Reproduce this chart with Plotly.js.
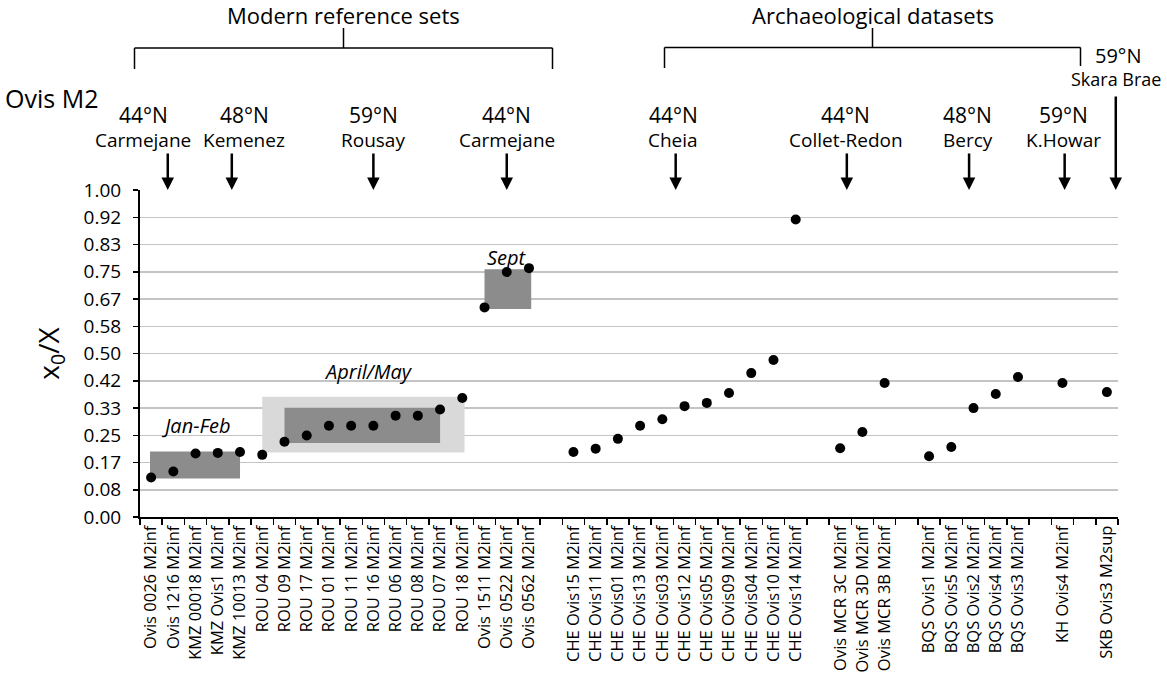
<!DOCTYPE html>
<html>
<head>
<meta charset="utf-8">
<script src="https://cdn.plot.ly/plotly-3.0.1.min.js"></script>
<style>html,body{margin:0;padding:0;background:#fff;}#chart{width:1167px;height:680px;}</style>
</head>
<body>
<div id="chart"></div>
<script>
// ---- data ----
const modernNames = ['Ovis 0026 M2inf','Ovis 1216 M2inf','KMZ 00018 M2inf','KMZ Ovis1 M2inf','KMZ 10013 M2inf',
  'ROU 04 M2inf','ROU 09 M2inf','ROU 17 M2inf','ROU 01 M2inf','ROU 11 M2inf','ROU 16 M2inf','ROU 06 M2inf',
  'ROU 08 M2inf','ROU 07 M2inf','ROU 18 M2inf','Ovis 1511 M2inf','Ovis 0522 M2inf','Ovis 0562 M2inf'];
const modernValues = [0.121,0.139,0.194,0.196,0.199,0.190,0.230,0.249,0.279,0.279,0.279,0.310,0.310,0.329,0.364,0.641,0.749,0.761];

const cheNames = ['CHE Ovis15 M2inf','CHE Ovis11 M2inf','CHE Ovis01 M2inf','CHE Ovis13 M2inf','CHE Ovis03 M2inf',
  'CHE Ovis12 M2inf','CHE Ovis05 M2inf','CHE Ovis09 M2inf','CHE Ovis04 M2inf','CHE Ovis10 M2inf','CHE Ovis14 M2inf'];
const cheValues = [0.199,0.209,0.239,0.279,0.299,0.339,0.349,0.379,0.440,0.480,0.910];

const mcrNames = ['Ovis MCR 3C M2inf','Ovis MCR 3D M2inf','Ovis MCR 3B M2inf'];
const mcrValues = [0.210,0.260,0.410];

const bqsNames = ['BQS Ovis1 M2inf','BQS Ovis5 M2inf','BQS Ovis2 M2inf','BQS Ovis4 M2inf','BQS Ovis3 M2inf'];
const bqsValues = [0.186,0.214,0.333,0.376,0.428];

const khNames = ['KH Ovis4 M2inf'];
const khValues = [0.410];

const skbNames = ['SKB Ovis3 M2sup'];
const skbValues = [0.382];

// empty slots separating the groups on the category axis
const gaps = [' ', '  ', '   ', '    ', '     '];

const yTickLabels = ['0.00','0.08','0.17','0.25','0.33','0.42','0.50','0.58','0.67','0.75','0.83','0.92','1.00'];

// season ranges (category index span, value span)
const seasonBoxes = [
  {x0:-0.05, x1:4.0,  y0:0.118, y1:0.200, fill:'#8c8c8c'},
  {x0:5.0,   x1:14.1, y0:0.197, y1:0.368, fill:'#d9d9d9'},
  {x0:6.0,   x1:13.0, y0:0.226, y1:0.334, fill:'#8c8c8c'},
  {x0:15.0,  x1:17.1, y0:0.636, y1:0.758, fill:'#8c8c8c'}
];
const seasonLabels = [
  {text:'Jan-Feb',   x:2.0,  y:0.280},
  {text:'April/May', x:9.8,  y:0.446},
  {text:'Sept',      x:16.0, y:0.795}
];

// site labels: [latitude, site, text index, arrow index]
const sites = [
  ['44°N','Carmejane',   -0.35, 0.75],
  ['48°N','Kemenez',      4.2,  3.63],
  ['59°N','Rousay',      10.0, 10.0],
  ['44°N','Carmejane',   16.0, 16.0],
  ['44°N','Cheia',       23.5, 23.6],
  ['44°N','Collet-Redon',31.25,31.3],
  ['48°N','Bercy',       36.75,36.8],
  ['59°N','K.Howar',     41.05,41.1]
];

// ---- build ----
const categories = [].concat(modernNames, [gaps[0]], cheNames, [gaps[1]], mcrNames, [gaps[2]],
  bqsNames, [gaps[3]], khNames, [gaps[4]], skbNames);
const xs = [].concat(modernNames, cheNames, mcrNames, bqsNames, khNames, skbNames);
const ys = [].concat(modernValues, cheValues, mcrValues, bqsValues, khValues, skbValues);

const FONT = 'Open Sans, sans-serif';

const trace = {
  type:'scatter', mode:'markers', x: xs, y: ys,
  marker:{color:'#000', size:10},
  hoverinfo:'x+y', showlegend:false, cliponaxis:false
};

// paper helpers for decorations outside the plot area
const L = 140, T = 190, W = 978, H = 327;
const px = v => (v - L) / W;
const py = v => (T + H - v) / H;

const shapes = seasonBoxes.map(b => ({
  type:'rect', xref:'x', yref:'y', x0:b.x0, x1:b.x1, y0:b.y0, y1:b.y1,
  fillcolor:b.fill, line:{width:0}, layer:'between'
}));
// brackets
function bracket(a, c, b, yH, yL, yTop, yR) {
  const ln = {color:'#000', width:1.5};
  return [
    {type:'line', xref:'paper', yref:'paper', x0:px(a), x1:px(b), y0:py(yH), y1:py(yH), line:ln},
    {type:'line', xref:'paper', yref:'paper', x0:px(a), x1:px(a), y0:py(yH), y1:py(yL), line:ln},
    {type:'line', xref:'paper', yref:'paper', x0:px(b), x1:px(b), y0:py(yH), y1:py(yR), line:ln},
    {type:'line', xref:'paper', yref:'paper', x0:px(c), x1:px(c), y0:py(yH), y1:py(yTop), line:ln}
  ];
}
shapes.push(...bracket(134.5, 343.5, 552.5, 48, 69, 28, 69));
shapes.push(...bracket(664.5, 872.5, 1080.5, 47.5, 68, 28, 66));

const annotations = [];
seasonLabels.forEach(s => annotations.push({
  xref:'x', yref:'y', x:s.x, y:s.y, text:'<i>'+s.text+'</i>', showarrow:false,
  xanchor:'center', yanchor:'middle',
  font:{family:FONT, size:20, color:'#000'}
}));
sites.forEach(s => {
  annotations.push({xref:'x', yref:'paper', x:s[2], y:py(115), text:s[0], showarrow:false,
    xanchor:'center', yanchor:'middle', font:{family:FONT, size:21, color:'#000'}});
  annotations.push({xref:'x', yref:'paper', x:s[2], y:py(140), text:s[1], showarrow:false,
    xanchor:'center', yanchor:'middle', font:{family:FONT, size:19, color:'#000'}});
  annotations.push({xref:'x', yref:'paper', x:s[3], y:1, text:'', showarrow:true,
    ax:0, ay:-38, arrowhead:2, arrowsize:1, arrowwidth:2.5, arrowcolor:'#000', standoff:0});
});
// Skara Brae (last column)
annotations.push({xref:'paper', yref:'paper', x:px(1118), y:py(56), text:'59°N', showarrow:false,
  xanchor:'center', yanchor:'middle', font:{family:FONT, size:20, color:'#000'}});
annotations.push({xref:'paper', yref:'paper', x:px(1116), y:py(79), text:'Skara Brae', showarrow:false,
  xanchor:'center', yanchor:'middle', font:{family:FONT, size:18, color:'#000'}});
annotations.push({xref:'x', yref:'paper', x:43.4, y:1, text:'', showarrow:true,
  ax:0, ay:-95, arrowhead:2, arrowsize:1, arrowwidth:2.5, arrowcolor:'#000', standoff:0});
// group titles
annotations.push({xref:'paper', yref:'paper', x:px(343.5), y:py(15), text:'Modern reference sets', showarrow:false,
  xanchor:'center', yanchor:'middle', font:{family:FONT, size:22, color:'#000'}});
annotations.push({xref:'paper', yref:'paper', x:px(872.5), y:py(15), text:'Archaeological datasets', showarrow:false,
  xanchor:'center', yanchor:'middle', font:{family:FONT, size:22, color:'#000'}});
annotations.push({xref:'paper', yref:'paper', x:px(3), y:py(98), xanchor:'left', text:'Ovis M2', showarrow:false,
  yanchor:'middle', font:{family:FONT, size:25, color:'#000'}});

const layout = {
  width:1167, height:680,
  margin:{l:L, r:1167-L-W, t:T, b:680-T-H, pad:0},
  paper_bgcolor:'#fff', plot_bgcolor:'#fff',
  font:{family:FONT, color:'#000'},
  showlegend:false,
  xaxis:{
    type:'category', categoryorder:'array', categoryarray:categories,
    range:[-0.5, categories.length - 0.5],
    showgrid:false, zeroline:false,
    showline:true, linecolor:'#000', linewidth:2,
    ticks:'outside', tickson:'boundaries', ticklen:6, tickwidth:1.5, tickcolor:'#000',
    tickangle:-90, tickfont:{family:FONT, size:16.5, color:'#000'},
    automargin:false
  },
  yaxis:{
    range:[0,1], tickvals:yTickLabels.map((_, k) => k / 12), ticktext:yTickLabels,
    showgrid:true, gridcolor:'#c4c4c4', gridwidth:1.5,
    zeroline:false, showline:true, linecolor:'#000', linewidth:2,
    ticks:'outside', ticklen:5, tickwidth:1.5, tickcolor:'#000',
    ticklabelstandoff:8,
    tickfont:{family:FONT, size:19, color:'#000'},
    title:{text:'x<sub>0</sub>/X', font:{family:FONT, size:28, color:'#000'}, standoff:16},
    automargin:false
  },
  shapes:shapes,
  annotations:annotations
};

Plotly.newPlot('chart', [trace], layout, {displayModeBar:false, staticPlot:true});
</script>
</body>
</html>
